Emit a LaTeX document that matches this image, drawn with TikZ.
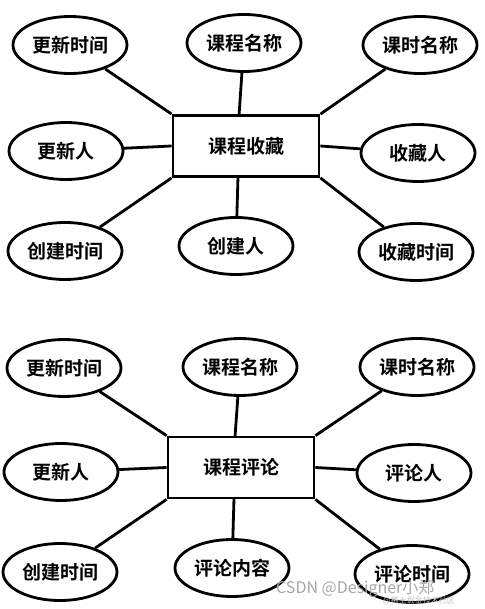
\documentclass[tikz,border=0pt]{standalone}
\usepackage{fontspec}
\newfontfamily\cjk{Noto Sans CJK SC}[BoldFont={* Bold}]
\usetikzlibrary{shapes.geometric}
\begin{document}
\begin{tikzpicture}[x=1pt,y=-1pt,
  attr/.style={draw,line width=2.8pt,ellipse,minimum width=114pt,minimum height=57pt,inner sep=0pt,font=\cjk\bfseries\fontsize{19}{19}\selectfont},
  ent/.style={draw,line width=2.8pt,rectangle,minimum width=146pt,minimum height=61pt,inner sep=0pt,font=\cjk\bfseries\fontsize{19}{19}\selectfont},
  link/.style={line width=2.8pt}]
\useasboundingbox (0,0) rectangle (484,609);
% top diagram
\node[ent] (r1) at (246,146) {课程收藏};
\node[attr] (a1) at (70,45) {更新时间};
\node[attr] (a2) at (244,43) {课程名称};
\node[attr] (a3) at (420,45) {课时名称};
\node[attr] (a4) at (66,151) {更新人};
\node[attr] (a5) at (418,153) {收藏人};
\node[attr] (a6) at (65,251) {创建时间};
\node[attr] (a7) at (236,246) {创建人};
\node[attr] (a8) at (416,252) {收藏时间};
\coordinate (r1t) at (239,115.5);
\coordinate (r1b) at (238,176.5);
\draw[link] (a1) -- (r1.north west);
\draw[link] (a2) -- (r1t);
\draw[link] (a3) -- (r1.north east);
\draw[link] (a4) -- (r1.west);
\draw[link] (r1.east) -- (a5);
\draw[link] (a6) -- (r1.south west);
\draw[link] (a7) -- (r1b);
\draw[link] (r1.south east) -- (a8);
% bottom diagram
\node[ent] (r2) at (241,467.5) {课程评论};
\node[attr] (b1) at (64,368) {更新时间};
\node[attr] (b2) at (240,367) {课程名称};
\node[attr] (b3) at (417,367) {课时名称};
\node[attr] (b4) at (61,472) {更新人};
\node[attr] (b5) at (414,473) {评论人};
\node[attr] (b6) at (60,572) {创建时间};
\node[attr] (b7) at (232,568) {评论内容};
\node[attr] (b8) at (412,574) {评论时间};
\coordinate (r2t) at (235,437);
\coordinate (r2b) at (234,498);
\draw[link] (b1) -- (r2.north west);
\draw[link] (b2) -- (r2t);
\draw[link] (b3) -- (r2.north east);
\draw[link] (b4) -- (r2.west);
\draw[link] (r2.east) -- (b5);
\draw[link] (b6) -- (r2.south west);
\draw[link] (b7) -- (r2b);
\draw[link] (r2.south east) -- (b8);
% watermark
\node[text=black!35,font=\cjk\fontsize{16}{16}\selectfont,inner sep=0pt,anchor=west] (wm) at (276,589) {CSDN @Designer小郑};
\node[text=black!25,font=\cjk\fontsize{8}{8}\selectfont,inner sep=0pt,anchor=west] (wm2) at (383,601) {@稀土掘金技术社区};
\end{tikzpicture}
\end{document}
